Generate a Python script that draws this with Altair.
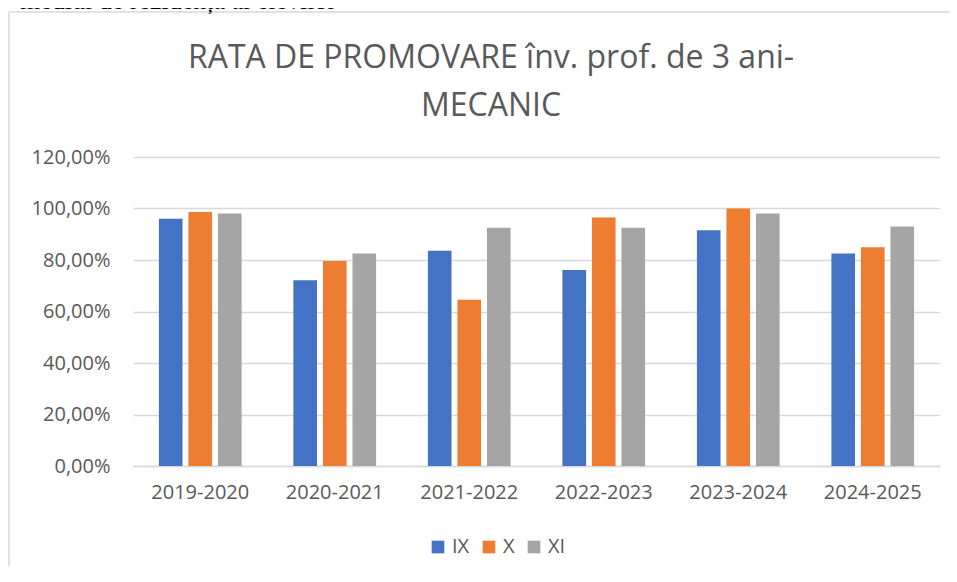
import altair as alt
import pandas as pd

years = ["2019-2020", "2020-2021", "2021-2022", "2022-2023", "2023-2024", "2024-2025"]
series = ["IX", "X", "XI"]
ix_vals = [96.0, 72.1, 83.6, 76.1, 91.6, 82.5]
x_vals = [98.6, 79.6, 64.6, 96.5, 100.0, 85.0]
xi_vals = [98.1, 82.5, 92.5, 92.5, 98.1, 93.0]
colors = ["#4472C4", "#ED7D31", "#A5A5A5"]
y_ticks = [0, 20, 40, 60, 80, 100, 120]
title_lines = ["RATA DE PROMOVARE înv. prof. de 3 ani-", "MECANIC"]

rows = []
for i, y in enumerate(years):
    for s, vals in zip(series, [ix_vals, x_vals, xi_vals]):
        rows.append({"An": y, "Clasa": s, "Rata": vals[i]})
df = pd.DataFrame(rows)

FONT = "Open Sans"
TXT = "#595959"
GRID = "#D9D9D9"

bars = alt.Chart(df).mark_bar().encode(
    x=alt.X("An:N", sort=years,
            scale=alt.Scale(paddingInner=0.385, paddingOuter=0.1925),
            axis=alt.Axis(title=None, labelAngle=0, labelFont=FONT, labelFontSize=20,
                          labelColor=TXT, ticks=False, domainColor=GRID, domainWidth=1.5,
                          labelPadding=16)),
    xOffset=alt.XOffset("Clasa:N", sort=series,
                        scale=alt.Scale(paddingInner=0.2, paddingOuter=0)),
    y=alt.Y("Rata:Q", scale=alt.Scale(domain=[0, 120], nice=False),
            axis=alt.Axis(title=None, values=y_ticks, domain=False, ticks=False,
                          labelFont=FONT, labelFontSize=20, labelColor=TXT,
                          labelPadding=23, gridColor=GRID, gridWidth=1.5,
                          labelExpr="replace(format(datum.value, '.2f'), '.', ',') + '%'")),
    color=alt.Color("Clasa:N", sort=series,
                    scale=alt.Scale(domain=series, range=colors),
                    legend=alt.Legend(title=None, orient="none", direction="horizontal",
                                      legendX=295, legendY=380, padding=0,
                                      symbolType="square",
                                      symbolSize=160, symbolStrokeWidth=0,
                                      labelFont=FONT, labelFontSize=20, labelColor=TXT,
                                      columnPadding=9, labelOffset=4)),
)

one = pd.DataFrame({"k": [0]})
frame_top = alt.Chart(one).mark_rule(stroke=GRID, strokeWidth=1.5).encode(
    x=alt.value(-124), x2=alt.value(816), y=alt.value(-145))
frame_left = alt.Chart(one).mark_rule(stroke=GRID, strokeWidth=1.5).encode(
    x=alt.value(-124), y=alt.value(-145), y2=alt.value(410))

top_text = alt.Chart(pd.DataFrame({"t": ["mediul de rezidență al elevilor"]})).mark_text(
    align="left", baseline="alphabetic", font="Liberation Serif", fontSize=26, color="black"
).encode(text="t:N", x=alt.value(-113), y=alt.value(-148.5))

title1 = alt.Chart(pd.DataFrame({"t": [title_lines[0]]})).mark_text(
    align="center", baseline="alphabetic", font=FONT, fontSize=32, color=TXT
).encode(text="t:N", x=alt.value(358), y=alt.value(-89))

title2 = alt.Chart(pd.DataFrame({"t": [title_lines[1]]})).mark_text(
    align="center", baseline="alphabetic", font=FONT, fontSize=32, color=TXT
).encode(text="t:N", x=alt.value(358), y=alt.value(-41))

chart = alt.layer(frame_top, frame_left, bars, title1, title2, top_text).properties(
    width=807, height=309,
    autosize=alt.AutoSizeParams(type="none"),
    padding={"left": 125, "top": 149, "right": 9, "bottom": 100},
).configure_view(stroke=None)

chart.save("out.html", embed_options={"renderer": "svg", "actions": False})
